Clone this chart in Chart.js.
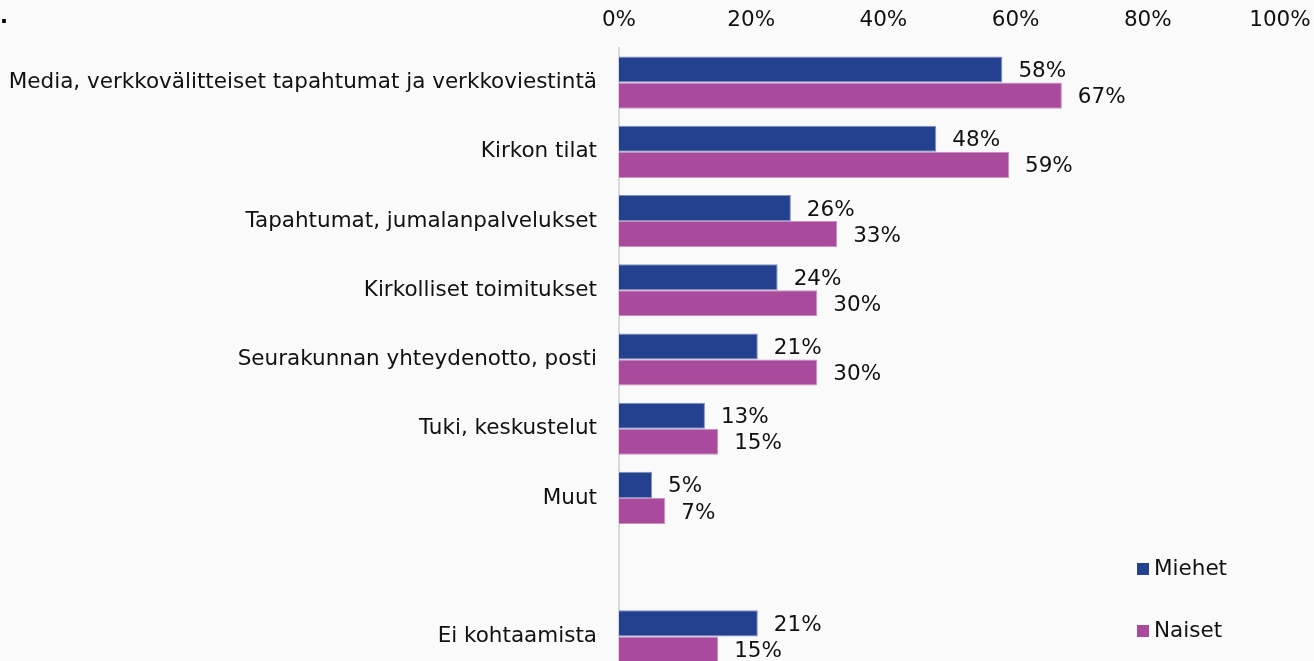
<!DOCTYPE html>
<html>
<head>
<meta charset="utf-8">
<script src="https://cdn.jsdelivr.net/npm/chart.js@4/dist/chart.umd.min.js"></script>
<style>
    html, body { margin: 0; padding: 0; background: #fafafa; overflow: hidden; }
    #wrap { position: relative; width: 1314px; height: 671px; }
    #dot { position: absolute; left: 0; top: 4px; font: bold 21px "DejaVu Sans"; color: #000; }
    .legend { position: absolute; left: 1137px; font: 21.5px "DejaVu Sans"; color: #111; }
    .legend span { display: inline-block; width: 12px; height: 12px; margin-right: 5px; }
</style>
</head>
<body>
<div id="wrap">
    <canvas id="chart" width="1314" height="671"></canvas>
    <div id="dot">.</div>
    <div class="legend" style="top:555px"><span style="background:#24418f"></span>Miehet</div>
    <div class="legend" style="top:617px"><span style="background:#a94a9c"></span>Naiset</div>
</div>
<script>
// Chart data
const categories = [
    'Media, verkkovälitteiset tapahtumat ja verkkoviestintä',
    'Kirkon tilat',
    'Tapahtumat, jumalanpalvelukset',
    'Kirkolliset toimitukset',
    'Seurakunnan yhteydenotto, posti',
    'Tuki, keskustelut',
    'Muut',
    '',
    'Ei kohtaamista'
];
const miehet = [58, 48, 26, 24, 21, 13, 5, null, 21];
const naiset = [67, 59, 33, 30, 30, 15, 7, null, 15];
const xTicks = [0, 20, 40, 60, 80, 100];

const COLORS = {
    blue: '#24418f',
    magenta: '#a94a9c',
    axis: '#d9d9d9',
    text: '#111111'
};

const FONT = { family: 'DejaVu Sans', size: 21.5 };

// Value labels to the right of each bar
const barLabels = {
    id: 'barLabels',
    afterDatasetsDraw(chart) {
        const ctx = chart.ctx;
        ctx.save();
        ctx.font = FONT.size + 'px ' + FONT.family;
        ctx.fillStyle = COLORS.text;
        ctx.textAlign = 'left';
        ctx.textBaseline = 'middle';
        chart.data.datasets.forEach((ds, i) => {
            chart.getDatasetMeta(i).data.forEach((bar, j) => {
                const v = ds.data[j];
                if (v === null) return;
                ctx.fillText(v + '%', bar.x + 16, bar.y + 2);
            });
        });
        ctx.restore();
    }
};

new Chart(document.getElementById('chart'), {
    type: 'bar',
    data: {
        labels: categories,
        datasets: [
            {
                label: 'Miehet',
                data: miehet,
                backgroundColor: COLORS.blue,
                borderColor: '#8090c0',
                borderWidth: 1,
                barPercentage: 1,
                categoryPercentage: 0.754
            },
            {
                label: 'Naiset',
                data: naiset,
                backgroundColor: COLORS.magenta,
                borderColor: '#c890c0',
                borderWidth: 1,
                barPercentage: 1,
                categoryPercentage: 0.754
            }
        ]
    },
    options: {
        indexAxis: 'y',
        responsive: false,
        animation: false,
        layout: { padding: { right: 34 } },
        plugins: {
            legend: { display: false },
            tooltip: { enabled: false }
        },
        scales: {
            x: {
                position: 'top',
                min: 0,
                max: 100,
                afterBuildTicks: s => { s.ticks = xTicks.map(v => ({ value: v })); },
                afterFit: s => { s.height = 48; s.paddingLeft = 0; s.paddingRight = 0; },
                grid: { display: false, drawTicks: false },
                border: { display: false },
                ticks: {
                    color: COLORS.text,
                    font: FONT,
                    padding: 15,
                    maxRotation: 0,
                    callback: v => v + '%'
                }
            },
            y: {
                afterFit: s => { s.width = 619; s.paddingTop = 0; s.paddingBottom = 0; },
                grid: { display: false, drawTicks: false },
                border: { display: true, color: COLORS.axis, width: 2 },
                ticks: {
                    color: COLORS.text,
                    font: FONT,
                    padding: 22
                }
            }
        }
    },
    plugins: [barLabels]
});
</script>
</body>
</html>
